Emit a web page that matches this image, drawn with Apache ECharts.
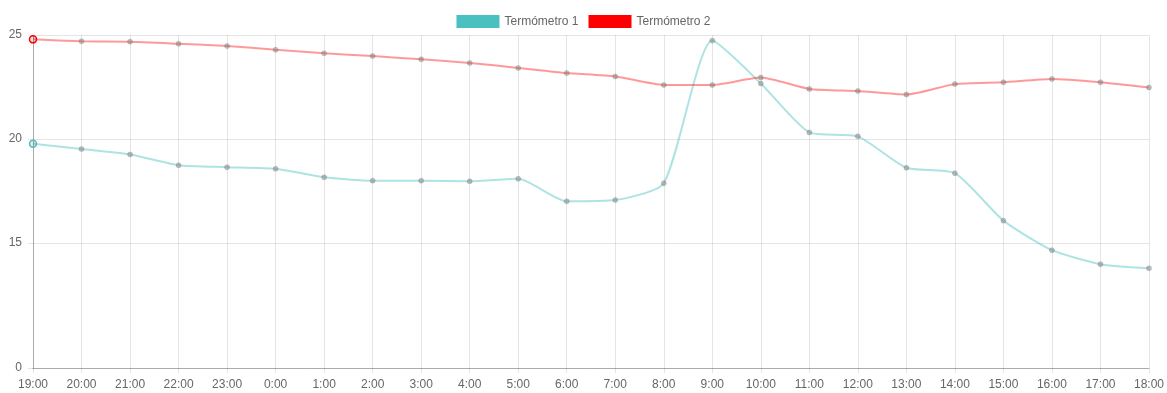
<!DOCTYPE html>
<html>
<head>
<meta charset="utf-8">
<script src="https://cdn.jsdelivr.net/npm/echarts@6/dist/echarts.min.js"></script>
<style>
html,body{margin:0;padding:0;background:#fff;}
#chart{width:1167px;height:393px;}
</style>
</head>
<body>
<div id="chart"></div>
<script>
const categories = ['19:00','20:00','21:00','22:00','23:00','0:00','1:00','2:00','3:00','4:00','5:00','6:00','7:00','8:00','9:00','10:00','11:00','12:00','13:00','14:00','15:00','16:00','17:00','18:00'];
const termometro1 = [19.78,19.52,19.26,18.74,18.65,18.57,18.16,18.0,18.0,17.97,18.09,17.01,17.07,17.88,24.73,22.67,20.32,20.13,18.62,18.36,16.08,14.66,13.99,13.79];
const termometro2 = [24.79,24.70,24.68,24.58,24.47,24.29,24.12,23.99,23.83,23.66,23.42,23.17,23.01,22.60,22.60,22.96,22.41,22.31,22.14,22.64,22.73,22.89,22.73,22.48];
const yTickValues = [9,15,20,25];
const yTickLabels = ['0','15','20','25'];
const seriesNames = ['Termómetro 1','Termómetro 2'];

const font = 'Liberation Sans, Arial, Helvetica, sans-serif';
const chart = echarts.init(document.getElementById('chart'), null, {renderer:'canvas'});

function mkSeries(name, data, lineColor, mainColor){
  return {
    name: name,
    type: 'line',
    data: data.map((v,i)=> i===0 ? {value:v, symbolSize:7, itemStyle:{color:'rgba(0,0,0,0.1)', borderColor:mainColor, borderWidth:1.5}} : v),
    smooth: 0.2,
    symbol: 'circle',
    symbolSize: 5,
    showAllSymbol: true,
    lineStyle: {color: lineColor, width: 2},
    itemStyle: {color: 'rgba(120,120,120,0.45)', borderColor: 'rgba(120,120,120,0.3)', borderWidth: 1},
    emphasis: {disabled: true},
    z: 2
  };
}

chart.setOption({
  animation: false,
  backgroundColor: '#fff',
  legend: {
    top: 10,
    left: 'center',
    icon: 'rect',
    itemWidth: 43,
    itemHeight: 13,
    itemGap: 10,
    textStyle: {fontFamily: font, fontSize: 12, color: '#666'},
    data: [
      {name: seriesNames[0], itemStyle: {color: '#4bc0c0', borderWidth: 0}},
      {name: seriesNames[1], itemStyle: {color: '#ff0000', borderWidth: 0}}
    ]
  },
  grid: {left: 33, right: 17, top: 35, bottom: 25, containLabel: false},
  xAxis: {
    type: 'category',
    data: categories,
    boundaryGap: false,
    axisLine: {show: true, lineStyle: {color: 'rgba(0,0,0,0.25)', width: 1}},
    axisTick: {show: true, alignWithLabel: true, length: 5, lineStyle: {color: 'rgba(0,0,0,0.1)'}},
    axisLabel: {fontFamily: font, fontSize: 12, color: '#666', margin: 11, interval: 0},
    splitLine: {show: true, lineStyle: {color: 'rgba(0,0,0,0.1)', width: 1}}
  },
  yAxis: {
    type: 'value',
    min: yTickValues[0],
    max: yTickValues[yTickValues.length-1],
    axisLine: {show: true, lineStyle: {color: 'rgba(0,0,0,0.25)', width: 1}},
    axisTick: {show: true, length: 5, customValues: yTickValues, lineStyle: {color: 'rgba(0,0,0,0.1)'}},
    axisLabel: {
      fontFamily: font, fontSize: 12, color: '#666', margin: 11,
      customValues: yTickValues,
      formatter: function(v){ const i = yTickValues.indexOf(v); return i >= 0 ? yTickLabels[i] : ''; }
    },
    splitLine: {show: true, lineStyle: {color: 'rgba(0,0,0,0.1)', width: 1}}
  },
  series: [
    mkSeries(seriesNames[0], termometro1, 'rgba(75,192,192,0.45)', '#4bc0c0'),
    mkSeries(seriesNames[1], termometro2, 'rgba(255,0,0,0.4)', '#ff0000')
  ]
});
</script>
</body>
</html>
